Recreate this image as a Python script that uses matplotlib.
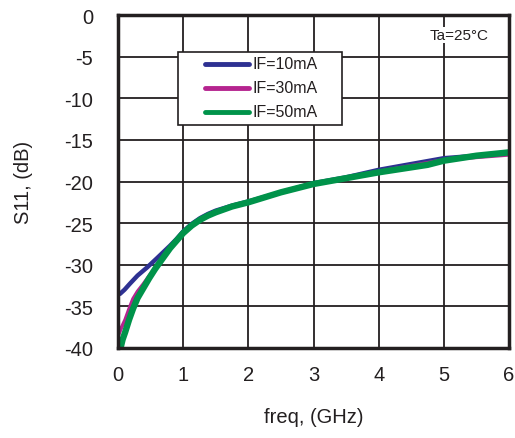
import numpy as np
import matplotlib.pyplot as plt
from matplotlib.patches import Rectangle

plt.rcParams['font.family'] = ['Liberation Sans', 'DejaVu Sans']
plt.rcParams['axes.unicode_minus'] = False

# S11 vs frequency
freq_10 = [0.03, 0.1, 0.18, 0.3, 0.45, 0.6, 0.8, 0.9, 1.0, 1.13, 1.26, 1.38, 1.5, 1.75, 2.0, 2.5, 3.0, 3.5, 4.0, 4.5, 5.0, 5.5, 6.0]
s11_10 = [-33.5, -33.0, -32.3, -31.3, -30.3, -29.2, -27.7, -26.9, -26.0, -25.1, -24.4, -23.9, -23.5, -22.9, -22.4, -21.3, -20.2, -19.5, -18.6, -17.9, -17.2, -16.9, -16.6]

freq_30 = [0.0, 0.05, 0.11, 0.17, 0.23, 0.3, 0.39, 0.5, 0.64, 0.8, 0.9, 1.0, 1.13, 1.26, 1.38, 1.5, 1.75, 2.0, 2.5, 3.0, 3.5, 4.0, 4.5, 5.0, 5.5, 6.0]
s11_30 = [-38.6, -37.6, -36.6, -35.3, -34.1, -33.2, -32.3, -31.1, -29.8, -28.1, -27.1, -26.2, -25.3, -24.6, -24.1, -23.7, -23.0, -22.5, -21.3, -20.3, -19.6, -18.8, -18.1, -17.4, -17.1, -16.8]

freq_50 = [0.03, 0.07, 0.11, 0.17, 0.23, 0.3, 0.39, 0.48, 0.57, 0.68, 0.8, 0.9, 1.0, 1.13, 1.26, 1.38, 1.5, 1.75, 2.0, 2.5, 3.0, 3.5, 4.0, 4.5, 4.75, 5.0, 5.5, 6.0]
s11_50 = [-40.3, -39.0, -38.1, -36.6, -35.3, -34.0, -32.8, -31.6, -30.5, -29.3, -28.0, -27.1, -26.2, -25.3, -24.6, -24.1, -23.7, -23.0, -22.5, -21.3, -20.3, -19.6, -18.9, -18.3, -18.0, -17.5, -16.9, -16.5]

labels = ['IF=10mA', 'IF=30mA', 'IF=50mA']
colors = ['#2e3192', '#b5248f', '#00934a']
ink = '#231f20'

fig = plt.figure(figsize=(5.15, 4.39), dpi=100)
ax = fig.add_axes([118 / 515, 1 - 349 / 439, (509 - 118) / 515, (349 - 16) / 439])

ax.plot(freq_10, s11_10, color=colors[0], lw=3.2, solid_capstyle='round', solid_joinstyle='round')
ax.plot(freq_30, s11_30, color=colors[1], lw=2.6, solid_capstyle='round', solid_joinstyle='round')
ax.plot(freq_50, s11_50, color=colors[2], lw=4.6, solid_capstyle='round', solid_joinstyle='round')

ax.set_xlim(0, 6)
ax.set_ylim(-40, 0)
ax.set_xticks(range(0, 7))
ax.set_yticks(range(-40, 1, 5))
ax.grid(True, color=ink, lw=1.3)
ax.set_axisbelow(True)
for s in ax.spines.values():
    s.set_linewidth(2.5)
    s.set_color(ink)
ax.tick_params(length=0, labelsize=14.5, labelcolor=ink)
ax.tick_params(axis='x', pad=12)
ax.tick_params(axis='y', pad=18)

ax.set_xlabel('freq, (GHz)', fontsize=14.5, color=ink, labelpad=17)
ax.set_ylabel('S11, (dB)', fontsize=14.5, color=ink, labelpad=22)

ax.text(0.873, 0.94, 'Ta=25°C', transform=ax.transAxes, ha='center', va='center',
        fontsize=11, color=ink,
        bbox=dict(facecolor='white', edgecolor='none', pad=1))

# legend box drawn by hand to match the original layout
ax.add_patch(Rectangle((0.153, 0.670), 0.420, 0.219, transform=ax.transAxes,
                       facecolor='white', edgecolor=ink, lw=1.2, zorder=5))
for i, (lab, c) in enumerate(zip(labels, colors)):
    yy = 0.853 - i * 0.072
    ax.plot([0.222, 0.336], [yy, yy], transform=ax.transAxes, color=c, lw=3.5,
            solid_capstyle='round', zorder=6)
    ax.text(0.343, yy, lab, transform=ax.transAxes, ha='left', va='center',
            fontsize=11.5, color=ink, zorder=6)

fig.savefig('out.png', dpi=100)
